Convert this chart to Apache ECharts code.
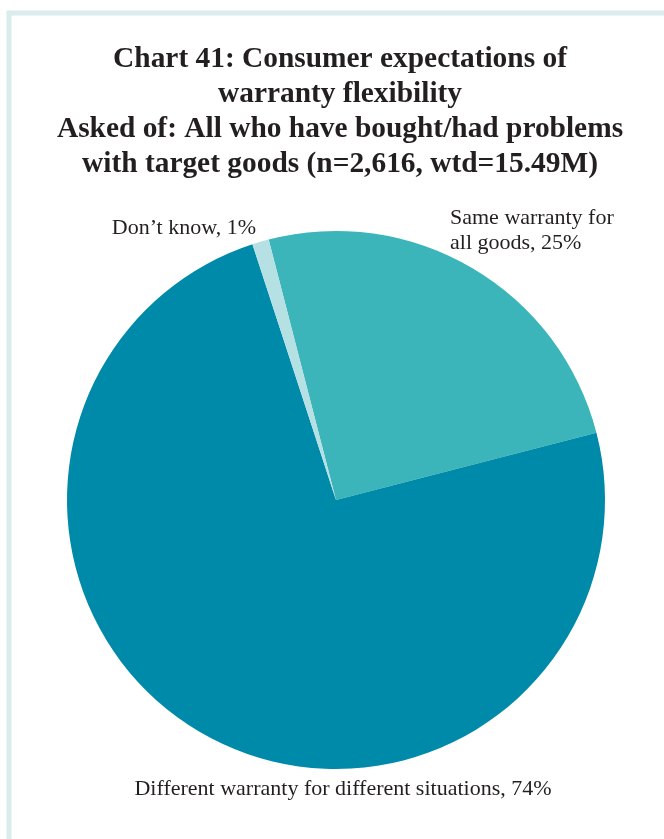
<!DOCTYPE html>
<html>
<head>
<meta charset="utf-8">
<script src="https://cdn.jsdelivr.net/npm/echarts@6/dist/echarts.min.js"></script>
<style>
html,body{margin:0;padding:0;background:#fff;}
#chart{width:664px;height:839px;}
</style>
</head>
<body>
<div id="chart"></div>
<script>
const titleLines = [
  'Chart 41: Consumer expectations of',
  'warranty flexibility',
  'Asked of: All who have bought/had problems',
  'with target goods (n=2,616, wtd=15.49M)'
];
const categories = ['Same warranty for\nall goods', 'Different warranty for different situations', 'Don\u2019t know'];
const values = [25, 74, 1];

const colors = ['#3bb5b9', '#008aa9', '#b5e0e4'];
const labelPos = [
  {x: 450, y: 231, align: 'left'},
  {x: 343, y: 789, align: 'center'},
  {x: 256, y: 228, align: 'right'}
];

const chart = echarts.init(document.getElementById('chart'));
const serif = '"Liberation Serif", "DejaVu Serif", serif';
chart.setOption({
  animation: false,
  graphic: [{
    type: 'rect', silent: true, z: -1,
    shape: {x: 9, y: 13, width: 700, height: 900},
    style: {fill: 'none', stroke: '#daecec', lineWidth: 5}
  }, {
    type: 'text', silent: true,
    x: 340, y: 42,
    style: {
      text: titleLines.join('\n'),
      align: 'center', verticalAlign: 'top',
      fontFamily: serif, fontWeight: 'bold', fontSize: 29.4, lineHeight: 35, fill: '#231f20'
    }
  }],
  series: [{
    type: 'pie',
    center: [336, 500],
    radius: 269,
    startAngle: 104.5,
    clockwise: true,
    data: categories.map((c, i) => ({name: c, value: values[i], itemStyle: {color: colors[i]}})),
    label: {
      show: true,
      overflow: 'none',
      formatter: p => p.name + ', ' + p.value + '%',
      fontFamily: serif, fontSize: 22, lineHeight: 25, color: '#231f20'
    },
    labelLine: {show: false},
    labelLayout: p => {
      const lp = labelPos[p.dataIndex];
      return {x: lp.x, y: lp.y, align: lp.align, verticalAlign: 'middle'};
    }
  }]
});
</script>
</body>
</html>
